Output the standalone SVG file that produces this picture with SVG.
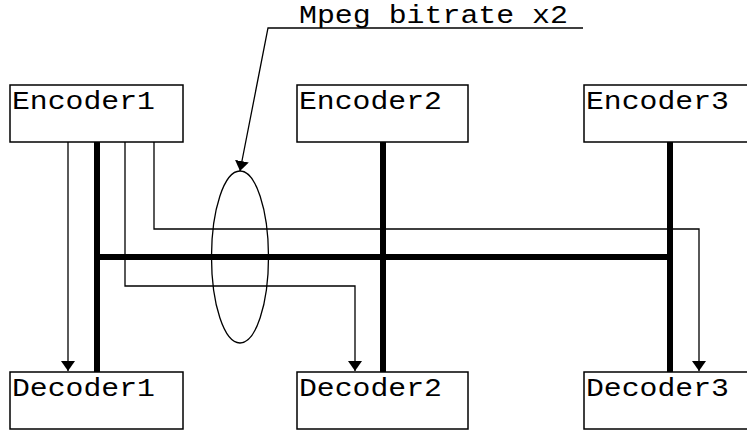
<svg xmlns="http://www.w3.org/2000/svg" width="747" height="431" viewBox="0 0 747 431">
  <style>
    .box { fill: #fff; stroke: #000; stroke-width: 1.5; }
    .lbl { font-family: "Liberation Mono", "Courier New", monospace; font-size: 26px; fill: #000; }
    .bus { stroke: #000; stroke-width: 6; fill: none; }
    .flow { stroke: #000; stroke-width: 1.3; fill: none; }
  </style>
  <defs>
    <marker id="arrow" viewBox="0 0 10 14" refX="10" refY="7" markerWidth="10" markerHeight="14" markerUnits="userSpaceOnUse" orient="auto">
      <path d="M0,0 L10,7 L0,14 Z" fill="#000"/>
    </marker>
  </defs>

  <rect width="747" height="431" fill="#fff"/>

  <!-- thick bus and thin data paths -->
  <g id="connectors">
    <line class="bus" x1="97" y1="142" x2="97" y2="372"/>
    <line class="bus" x1="383" y1="142" x2="383" y2="372"/>
    <line class="bus" x1="670" y1="142" x2="670" y2="372"/>
    <line class="bus" x1="97" y1="257" x2="673" y2="257"/>

    <polyline class="flow" points="68,142 68,371" marker-end="url(#arrow)"/>
    <polyline class="flow" points="125,142 125,286 355,286 355,371" marker-end="url(#arrow)"/>
    <polyline class="flow" points="154,142 154,229 699,229 699,371" marker-end="url(#arrow)"/>

    <ellipse class="flow" cx="240" cy="257" rx="28.5" ry="86"/>
    <polyline class="flow" points="583,28 268,28 240,171" marker-end="url(#arrow)"/>
  </g>

  <text class="lbl" x="299" y="23" textLength="269" lengthAdjust="spacingAndGlyphs">Mpeg bitrate x2</text>

  <g id="encoder1">
    <rect class="box" x="10" y="85" width="173" height="57"/>
    <text class="lbl" x="12" y="109" textLength="143" lengthAdjust="spacingAndGlyphs">Encoder1</text>
  </g>
  <g id="encoder2">
    <rect class="box" x="297" y="85" width="171" height="57"/>
    <text class="lbl" x="299" y="109" textLength="143" lengthAdjust="spacingAndGlyphs">Encoder2</text>
  </g>
  <g id="encoder3">
    <rect class="box" x="584" y="85" width="173" height="57"/>
    <text class="lbl" x="586" y="109" textLength="143" lengthAdjust="spacingAndGlyphs">Encoder3</text>
  </g>
  <g id="decoder1">
    <rect class="box" x="10" y="372" width="173" height="57"/>
    <text class="lbl" x="12" y="396" textLength="143" lengthAdjust="spacingAndGlyphs">Decoder1</text>
  </g>
  <g id="decoder2">
    <rect class="box" x="297" y="372" width="171" height="57"/>
    <text class="lbl" x="299" y="396" textLength="143" lengthAdjust="spacingAndGlyphs">Decoder2</text>
  </g>
  <g id="decoder3">
    <rect class="box" x="584" y="372" width="173" height="57"/>
    <text class="lbl" x="586" y="396" textLength="143" lengthAdjust="spacingAndGlyphs">Decoder3</text>
  </g>
</svg>
